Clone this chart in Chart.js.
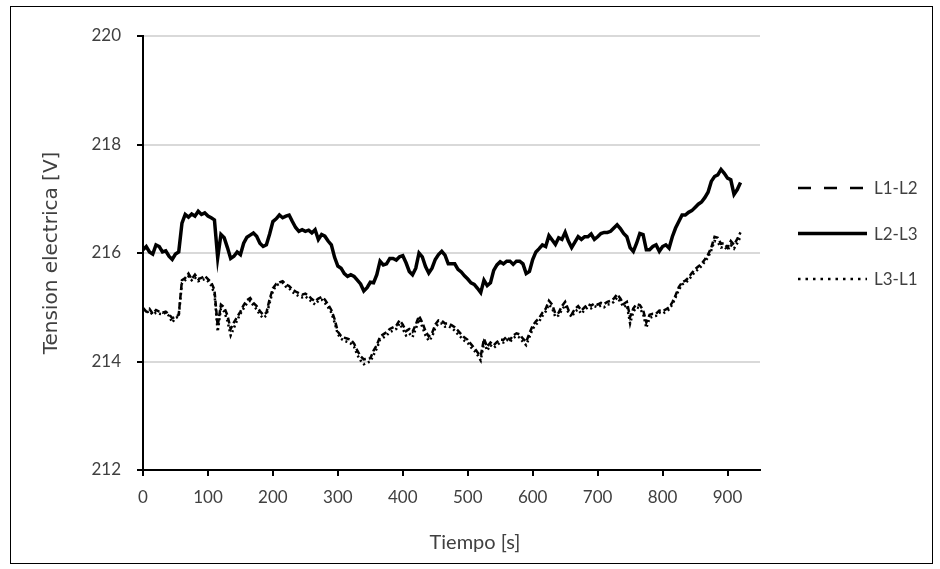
<!DOCTYPE html>
<html>
<head>
<meta charset="utf-8">
<title>Tension electrica</title>
<script src="https://cdn.jsdelivr.net/npm/chart.js@4.4.1/dist/chart.umd.min.js"></script>
<style>
  html, body { margin: 0; padding: 0; background: #fff; }
  #wrap { width: 940px; height: 569px; }
</style>
</head>
<body>
<div id="wrap"><canvas id="grafico" width="940" height="569"></canvas></div>
<script>
// muestras cada 5 s, de 0 a 920 s
const PASO = 5;

const l12 = [
  214.99, 214.92, 214.97, 214.88, 214.95, 214.92, 214.90, 214.92, 214.87, 214.80, 214.82, 214.86, 215.50, 215.54, 215.62, 215.52, 215.60, 215.52, 215.54, 215.58,
  215.52, 215.46, 215.32, 214.65, 215.05, 215.00, 214.85, 214.60, 214.72, 214.82, 214.92, 215.04, 215.13, 215.17, 215.08, 215.02, 214.93, 214.86, 214.90, 215.15,
  215.35, 215.43, 215.46, 215.48, 215.42, 215.39, 215.33, 215.29, 215.26, 215.23, 215.25, 215.21, 215.15, 215.11, 215.16, 215.19, 215.14, 215.05, 214.95, 214.78,
  214.55, 214.47, 214.44, 214.42, 214.40, 214.33, 214.20, 214.10, 214.04, 214.05, 214.06, 214.20, 214.30, 214.46, 214.50, 214.54, 214.60, 214.63, 214.66, 214.76,
  214.68, 214.56, 214.60, 214.55, 214.68, 214.84, 214.72, 214.56, 214.46, 214.52, 214.68, 214.76, 214.75, 214.70, 214.70, 214.67, 214.63, 214.57, 214.50, 214.44,
  214.40, 214.32, 214.25, 214.17, 214.10, 214.42, 214.27, 214.35, 214.30, 214.36, 214.40, 214.40, 214.46, 214.40, 214.48, 214.52, 214.50, 214.42, 214.36, 214.52,
  214.66, 214.74, 214.80, 214.90, 214.97, 215.12, 215.05, 214.88, 214.90, 215.02, 215.10, 214.95, 214.87, 214.97, 215.02, 214.94, 215.00, 215.06, 215.03, 215.07,
  215.05, 215.08, 215.06, 215.10, 215.12, 215.16, 215.24, 215.16, 215.06, 215.10, 214.82, 214.98, 215.06, 215.04, 214.95, 214.72, 214.86, 214.88, 214.88, 214.94,
  214.93, 214.96, 215.00, 215.09, 215.22, 215.37, 215.46, 215.49, 215.55, 215.63, 215.70, 215.75, 215.80, 215.88, 215.97, 216.10, 216.30, 216.28, 216.17, 216.18,
  216.10, 216.22, 216.15, 216.26, 216.38
];

const l23 = [
  216.06, 216.12, 216.02, 215.98, 216.15, 216.12, 216.02, 216.04, 215.94, 215.88, 215.98, 216.02, 216.55, 216.71, 216.66, 216.72, 216.68, 216.77, 216.71, 216.74,
  216.68, 216.65, 216.61, 215.91, 216.34, 216.28, 216.10, 215.90, 215.94, 216.02, 215.97, 216.18, 216.29, 216.33, 216.37, 216.31, 216.18, 216.12, 216.15, 216.35,
  216.58, 216.63, 216.70, 216.65, 216.68, 216.70, 216.58, 216.47, 216.40, 216.43, 216.40, 216.42, 216.37, 216.43, 216.25, 216.34, 216.31, 216.22, 216.15, 215.92,
  215.76, 215.72, 215.62, 215.57, 215.60, 215.57, 215.50, 215.43, 215.30, 215.36, 215.46, 215.45, 215.60, 215.85, 215.78, 215.80, 215.90, 215.90, 215.87, 215.93,
  215.95, 215.82, 215.66, 215.60, 215.72, 216.00, 215.93, 215.75, 215.63, 215.72, 215.88, 215.97, 216.03, 215.96, 215.80, 215.80, 215.80, 215.70, 215.65, 215.58,
  215.52, 215.45, 215.42, 215.35, 215.27, 215.50, 215.40, 215.45, 215.68, 215.78, 215.84, 215.80, 215.85, 215.85, 215.79, 215.85, 215.85, 215.80, 215.62, 215.66,
  215.88, 216.02, 216.08, 216.15, 216.12, 216.32, 216.24, 216.16, 216.28, 216.25, 216.38, 216.22, 216.10, 216.20, 216.30, 216.25, 216.30, 216.30, 216.35, 216.25,
  216.30, 216.36, 216.38, 216.38, 216.40, 216.46, 216.52, 216.45, 216.36, 216.30, 216.10, 216.03, 216.18, 216.36, 216.34, 216.06, 216.06, 216.12, 216.15, 216.03,
  216.12, 216.15, 216.09, 216.30, 216.46, 216.58, 216.70, 216.70, 216.75, 216.78, 216.84, 216.90, 216.94, 217.02, 217.12, 217.32, 217.41, 217.44, 217.54, 217.47,
  217.38, 217.35, 217.08, 217.17, 217.30
];

const l31 = [
  214.95, 214.90, 214.93, 214.86, 214.90, 214.88, 214.87, 214.90, 214.84, 214.72, 214.80, 214.83, 215.45, 215.50, 215.57, 215.50, 215.55, 215.48, 215.50, 215.52,
  215.48, 215.40, 215.25, 214.55, 214.98, 214.92, 214.75, 214.48, 214.62, 214.76, 214.88, 214.98, 215.07, 215.12, 215.03, 214.96, 214.86, 214.80, 214.85, 215.08,
  215.30, 215.40, 215.43, 215.45, 215.38, 215.35, 215.28, 215.24, 215.20, 215.18, 215.20, 215.15, 215.10, 215.05, 215.12, 215.14, 215.08, 215.00, 214.90, 214.72,
  214.50, 214.42, 214.38, 214.36, 214.33, 214.27, 214.12, 214.02, 213.95, 213.98, 214.00, 214.12, 214.24, 214.40, 214.44, 214.48, 214.54, 214.57, 214.60, 214.70,
  214.60, 214.48, 214.52, 214.45, 214.60, 214.78, 214.64, 214.48, 214.38, 214.45, 214.62, 214.70, 214.70, 214.64, 214.65, 214.62, 214.57, 214.50, 214.44, 214.38,
  214.34, 214.26, 214.20, 214.12, 214.02, 214.35, 214.20, 214.30, 214.25, 214.30, 214.35, 214.35, 214.40, 214.36, 214.43, 214.47, 214.44, 214.36, 214.30, 214.45,
  214.60, 214.68, 214.74, 214.84, 214.92, 215.05, 214.98, 214.82, 214.85, 214.95, 215.04, 214.90, 214.82, 214.92, 214.96, 214.88, 214.95, 215.00, 214.98, 215.02,
  215.00, 215.03, 215.00, 215.05, 215.06, 215.10, 215.18, 215.10, 215.00, 215.04, 214.70, 214.92, 215.00, 214.98, 214.88, 214.62, 214.80, 214.83, 214.84, 214.90,
  214.88, 214.92, 214.96, 215.05, 215.18, 215.32, 215.42, 215.45, 215.50, 215.58, 215.65, 215.70, 215.76, 215.84, 215.92, 216.05, 216.22, 216.20, 216.10, 216.12,
  216.05, 216.15, 216.08, 216.18, 216.30
];

const tiempo = l23.map((_, i) => i * PASO);
const ticksX = [0, 100, 200, 300, 400, 500, 600, 700, 800, 900];
const ticksY = [212, 214, 216, 218, 220];

const puntos = serie => tiempo.map((t, i) => ({ x: t, y: serie[i] }));

// marco exterior del grafico
const marco = {
  id: 'marco',
  beforeDraw(chart) {
    const ctx = chart.ctx;
    ctx.save();
    ctx.fillStyle = '#fff';
    ctx.fillRect(0, 0, chart.width, chart.height);
    ctx.strokeStyle = '#000';
    ctx.lineWidth = 1;
    ctx.strokeRect(10.5, 6.5, 922, 557);
    ctx.restore();
  }
};

// titulo del eje x (centrado en el area del grafico, como en el original)
const tituloX = {
  id: 'tituloX',
  afterDraw(chart, args, opts) {
    const ctx = chart.ctx;
    ctx.save();
    ctx.fillStyle = '#404040';
    ctx.font = opts.font;
    ctx.textAlign = 'center';
    ctx.textBaseline = 'middle';
    ctx.fillText(opts.text, opts.x, opts.y);
    ctx.restore();
  }
};

// leyenda a la derecha, con muestras de linea
const leyenda = {
  id: 'leyenda',
  afterDraw(chart, args, opts) {
    const ctx = chart.ctx;
    chart.data.datasets.forEach((ds, i) => {
      const y = opts.y0 + i * opts.gap;
      ctx.save();
      ctx.strokeStyle = ds.borderColor;
      ctx.lineWidth = ds.borderWidth;
      ctx.setLineDash(ds.muestra || []);
      ctx.beginPath();
      ctx.moveTo(opts.x0, y);
      ctx.lineTo(opts.x0 + opts.largo, y);
      ctx.stroke();
      ctx.setLineDash([]);
      ctx.fillStyle = '#404040';
      ctx.font = opts.font;
      ctx.textBaseline = 'middle';
      ctx.fillText(ds.label, opts.x0 + opts.largo + 7, y + 1);
      ctx.restore();
    });
  }
};

new Chart(document.getElementById('grafico'), {
  type: 'line',
  data: {
    datasets: [
      {
        label: 'L1-L2',
        data: puntos(l12),
        borderColor: '#000',
        borderWidth: 2.5,
        borderDash: [6, 3],
        muestra: [13, 13],
        pointRadius: 0,
        tension: 0
      },
      {
        label: 'L2-L3',
        data: puntos(l23),
        borderColor: '#000',
        borderWidth: 3.5,
        pointRadius: 0,
        tension: 0
      },
      {
        label: 'L3-L1',
        data: puntos(l31),
        borderColor: '#000',
        borderWidth: 2.5,
        borderDash: [2, 3],
        muestra: [2.5, 5],
        pointRadius: 0,
        tension: 0
      }
    ]
  },
  options: {
    responsive: false,
    devicePixelRatio: 1,
    animation: false,
    layout: { padding: { top: 36, right: 180, bottom: 0, left: 0 } },
    plugins: {
      legend: { display: false },
      tooltip: { enabled: false },
      leyenda: { x0: 798, y0: 188, gap: 45.5, largo: 69, font: '17px Lato' },
      tituloX: { text: 'Tiempo [s]', x: 475, y: 543, font: '20px Lato' }
    },
    scales: {
      x: {
        type: 'linear',
        min: 0,
        max: 950,
        afterFit: s => { s.height = 99; },
        afterBuildTicks: s => { s.ticks = ticksX.map(v => ({ value: v })); },
        grid: { drawOnChartArea: false, color: '#000', lineWidth: 2, tickLength: 6 },
        border: { color: '#000', width: 2 },
        ticks: { color: '#404040', font: { family: 'Lato', size: 17 }, padding: 11, maxRotation: 0 }
      },
      y: {
        min: 212,
        max: 220,
        afterFit: s => { s.width = 143; },
        afterBuildTicks: s => { s.ticks = ticksY.map(v => ({ value: v })); },
        grid: { color: '#d9d9d9', lineWidth: 2, tickColor: '#000', tickLength: 6 },
        border: { color: '#000', width: 2 },
        ticks: { color: '#404040', font: { family: 'Lato', size: 17 }, padding: 16 },
        title: {
          display: true,
          text: 'Tension electrica [V]',
          color: '#404040',
          font: { family: 'DejaVu Sans', size: 20 },
          padding: { top: 40, bottom: 0 }
        }
      }
    }
  },
  plugins: [marco, tituloX, leyenda]
});
</script>
</body>
</html>
